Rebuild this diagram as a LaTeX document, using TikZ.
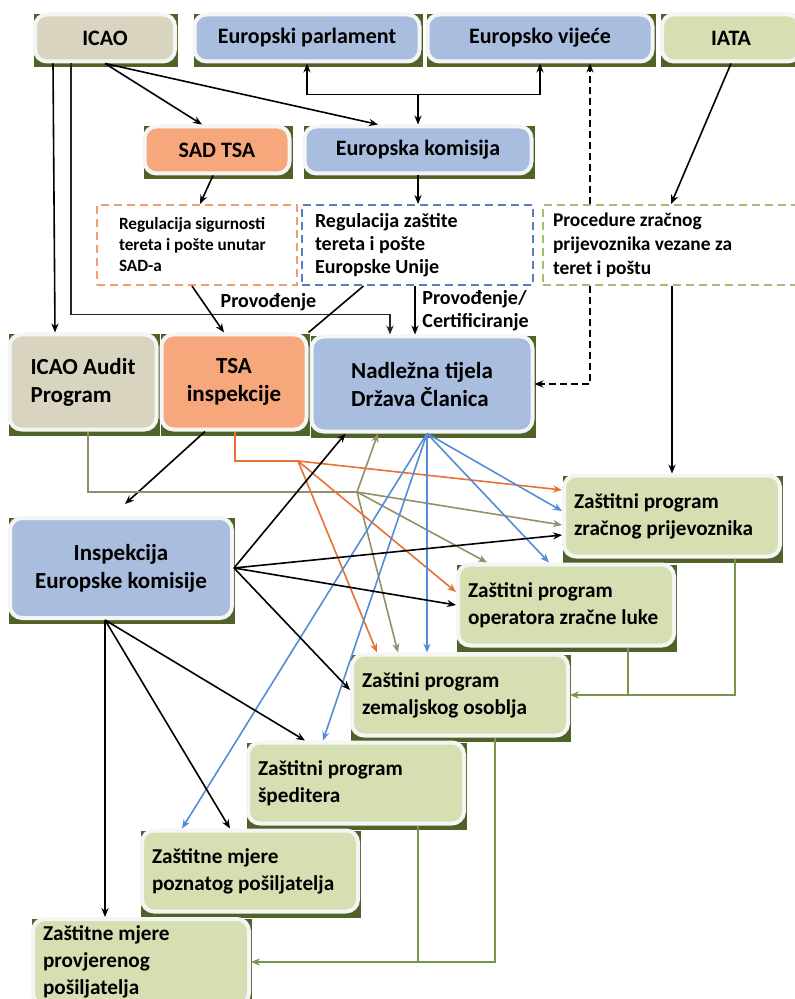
\documentclass[tikz,border=0pt]{standalone}
\usepackage{fontspec}
\setmainfont{Carlito}
\usepackage{xcolor}
\usepackage{tikz}
\usetikzlibrary{shapes,arrows,arrows.meta,positioning,calc,backgrounds}

\definecolor{tanfill}{RGB}{217,212,192}
\definecolor{bluefill}{RGB}{169,189,222}
\definecolor{orfill}{RGB}{246,168,124}
\definecolor{grfill}{RGB}{213,223,178}
\definecolor{shdcol}{RGB}{79,98,40}
\definecolor{orline}{RGB}{232,112,50}
\definecolor{tanline}{RGB}{150,142,105}
\definecolor{blline}{RGB}{85,140,215}
\definecolor{grline}{RGB}{120,150,75}
\definecolor{ordash}{RGB}{240,160,110}
\definecolor{bldash}{RGB}{90,125,190}
\definecolor{grdash}{RGB}{165,190,110}

\begin{document}
\begin{tikzpicture}[x=0.5pt,y=-0.5pt,
    >={Stealth[length=4.5pt,width=3.6pt]},
    box/.style={rectangle,rounded corners=6pt,draw=white!92!gray,line width=2pt,text=black,align=center},
    topbox/.style={box,minimum height=23.5pt,font=\fontsize{11}{13}\selectfont\bfseries},
    midbox/.style={box,minimum height=47.5pt,font=\fontsize{11.5}{14}\selectfont\bfseries},
    progbox/.style={box,fill=grfill,minimum width=108pt,minimum height=40.5pt,text width=98pt,
                    align=flush left,font=\fontsize{10.6}{13.5}\selectfont\bfseries},
    regbox/.style={rectangle,draw,line width=1pt,dash pattern=on 4pt off 2.5pt,fill=white,
                   minimum height=40pt,align=flush left},
    arr/.style={->,thick},
    tanarr/.style={->,thick,tanline},
    orarr/.style={->,thick,orline},
    blarr/.style={->,thick,blline},
    grarr/.style={->,semithick,grline},
    lbl/.style={font=\fontsize{10}{11.5}\selectfont\bfseries,align=flush left}
]
\useasboundingbox (0,0) rectangle (795,999);

% top row
\node[topbox,fill=tanfill,minimum width=70pt] (icao) at (105,38) {ICAO};
\node[topbox,fill=bluefill,minimum width=112.5pt] (parl) at (307,38) {Europski parlament};
\node[topbox,fill=bluefill,minimum width=112.5pt] (vijece) at (540,38) {Europsko vijeće};
\node[topbox,fill=grfill,minimum width=69pt] (iata) at (731,38) {IATA};

% second row
\node[topbox,fill=orfill,minimum width=72.5pt] (sadtsa) at (217,150) {SAD TSA};
\node[topbox,fill=bluefill,minimum width=113.5pt] (komisija) at (418,150) {Europska komisija};

% regulations
\node[regbox,draw=ordash,minimum width=100pt,text width=78pt,font=\fontsize{8.6}{10.5}\selectfont\bfseries]
    (regsad) at (197,245) {Regulacija sigurnosti\\tereta i pošte unutar\\SAD-a};
\node[regbox,draw=bldash,minimum width=115.5pt,text width=102pt,font=\fontsize{10}{11.5}\selectfont\bfseries]
    (regeu) at (417,245) {Regulacija zaštite\\tereta i pošte\\Europske Unije};
\node[regbox,draw=grdash,minimum width=128.5pt,text width=118pt,font=\fontsize{9.7}{12}\selectfont\bfseries]
    (regiata) at (671,245) {Procedure zračnog\\prijevoznika vezane za\\teret i poštu};

% inspections
\node[midbox,fill=tanfill,minimum width=73.5pt,align=flush left] (audit) at (83,382) {ICAO Audit\\Program};
\node[midbox,fill=orfill,minimum width=72.5pt] (tsainsp) at (234,382) {TSA\\inspekcije};
\node[midbox,fill=bluefill,minimum width=110.5pt,align=flush left] (nadlezna) at (422,384) {Nadležna tijela\\Država Članica};
\node[midbox,fill=bluefill,minimum width=111pt,minimum height=50pt] (inspek) at (121,568) {Inspekcija\\Europske komisije};

% programs
\node[progbox] (zpzp) at (672,516) {Zaštitni program\\zračnog prijevoznika};
\node[progbox] (zpol) at (566,605) {Zaštitni program\\operatora zračne luke};
\node[progbox] (zpzo) at (460,695) {Zaštini program\\zemaljskog osoblja};
\node[progbox] (zpsp) at (356,783) {Zaštitni program\\špeditera};
\node[progbox] (zmpp) at (250,871) {Zaštitne mjere\\poznatog pošiljatelja};
\node[progbox,minimum height=43pt] (zmprov) at (141,962) {Zaštitne mjere\\provjerenog\\pošiljatelja};

\begin{scope}[on background layer]
\foreach \n in {icao,parl,vijece,iata,sadtsa,komisija,audit,tsainsp,nadlezna,inspek,zpzp,zpol,zpzo,zpsp,zmpp,zmprov}
    \fill[shdcol] ($(\n.south west)+(1,4)$) rectangle ($(\n.north east)+(1,2)$);
\end{scope}

% ICAO
\draw[arr] ($(icao.south west)+(20,0)$) -- ($(audit.north)+(-28,0)$);
\draw[->,semithick,black!85] ($(icao.south west)+(38,0)$) |- ($(nadlezna.north)+(-32,-20)$) -- ($(nadlezna.north)+(-32,0)$);
\draw[arr] (icao.south) -- ($(sadtsa.north)+(-15,0)$);
\draw[arr] (icao.south) -- ($(komisija.north)+(-40,0)$);

% EU institutions
\coordinate (euj) at ($(komisija.north)+(0,-30)$);
\draw[arr] (euj) -| (parl.south);
\draw[arr] (euj) -| (vijece.south);
\draw[arr] (euj) -- (komisija.north);

% regulations
\draw[arr] ($(sadtsa.south)+(-4,0)$) -- ($(regsad.north)+(3,0)$);
\draw[arr] (komisija.south) -- (komisija.south |- regeu.north);
\draw[arr] (iata.south) -- (regiata.north);
\coordinate (dsh) at ($(regiata.north)+(-81,0)$);
\coordinate (dsh2) at ($(regiata.south)+(-81,0)$);
\draw[arr,dash pattern=on 3.5pt off 2pt] (dsh) -- (dsh |- vijece.south);
\draw[arr,dash pattern=on 3.5pt off 2pt] (dsh2) |- (nadlezna.east);
\draw[arr] ($(regeu.south)+(-2,0)$) -- node[lbl,right]{Provođenje/\\Certificiranje} ($(nadlezna.north)+(-7,0)$);
\draw[thick] ($(regeu.south west)+(63,0)$) -- (tsainsp.north east);
\draw[arr] ($(regsad.south)+(-5,0)$) -- node[lbl,right=5pt,pos=0.35]{Provođenje} ($(tsainsp.north)+(-10,0)$);
\draw[arr] (zpzp.north |- regiata.south) -- (zpzp.north);

% inspekcije
\draw[arr] ($(tsainsp.south)+(-29,0)$) -- ($(inspek.north)+(4,-12)$);

\coordinate (tanj) at (357,492);
\draw[semithick,tanline] ($(audit.south)+(5,0)$) |- (tanj);
\draw[tanarr] (tanj) -- ($(nadlezna.south)+(-44,0)$);
\draw[tanarr] (tanj) -- ($(zpzp.west)+(0,9)$);
\draw[tanarr] (tanj) -- ($(zpol.north)+(-79,0)$);
\draw[tanarr] (tanj) -- ($(zpzo.north)+(-62,0)$);

\coordinate (orj) at (298,461);
\draw[semithick,orline] ($(tsainsp.south)+(1,0)$) |- (orj);
\draw[orarr] (orj) -- ($(zpzp.west)+(0,-26)$);
\draw[orarr] (orj) -- ($(zpol.west)+(0,-13)$);
\draw[orarr] (orj) -- ($(zpzo.north)+(-83,0)$);

\draw[blarr] ($(nadlezna.south)+(5,0)$) -- ($(zpzp.west)+(0,-5)$);
\draw[blarr] ($(nadlezna.south)+(5,0)$) -- ($(zpol.north)+(-17,0)$);
\draw[blarr] ($(nadlezna.south)+(5,0)$) -- ($(zpzo.north)+(-33,0)$);
\draw[blarr] ($(nadlezna.south)+(5,0)$) -- ($(zpsp.north)+(-33,0)$);
\draw[blarr] ($(nadlezna.south)+(5,0)$) -- ($(zmpp.north)+(-68,0)$);

\draw[arr] (inspek.east) -- ($(nadlezna.south west)+(36,0)$);
\draw[arr] (inspek.east) -- ($(zpzp.west)+(0,19)$);
\draw[arr] (inspek.east) -- (zpol.west);
\draw[arr] (inspek.east) -- ($(zpzo.west)+(0,-5)$);
\draw[arr] ($(inspek.south)+(-16,0)$) -- ($(zpsp.north)+(-51,0)$);
\draw[arr] ($(inspek.south)+(-16,0)$) -- ($(zmpp.north)+(-20,0)$);
\draw[arr] ($(inspek.south)+(-16,0)$) -- ($(zmprov.north)+(-36,0)$);

% feedback
\coordinate (gfa) at ($(zpol.south)+(62,0)$);
\coordinate (gfb) at ($(zpsp.south)+(62,0)$);
\draw[grarr] ($(zpzp.south)+(63,0)$) |- (zpzo.east);
\draw[semithick,grline] (gfa) -- (gfa |- zpzo.east);
\draw[grarr] ($(zpzo.south)+(35,0)$) |- (zmprov.east);
\draw[semithick,grline] (gfb) -- (gfb |- zmprov.east);
\end{tikzpicture}
\end{document}
